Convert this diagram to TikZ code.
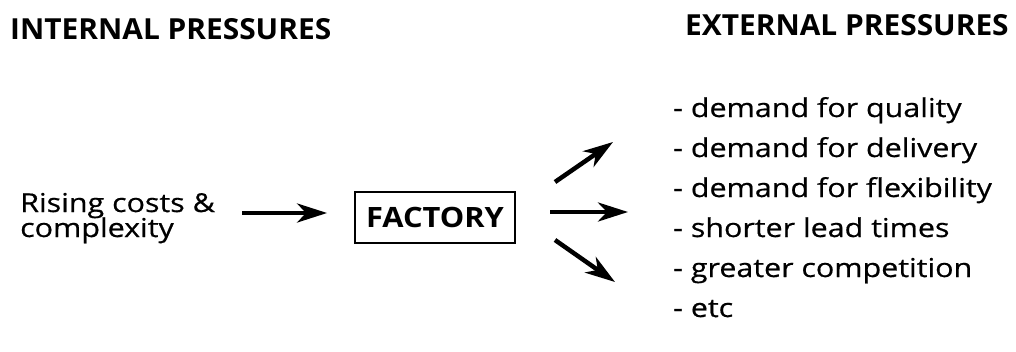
\documentclass[tikz,border=0pt]{standalone}
\usepackage{fontspec}
\setmainfont{Open Sans}
\newfontfamily\bodyfont[FakeStretch=1.17,FakeBold=0.6]{Open Sans}
\newfontfamily\headfont[FakeStretch=1.03]{Open Sans Bold}
\newfontfamily\boxfont[FakeStretch=1.1]{Open Sans Bold}
\usetikzlibrary{arrows.meta}
\tikzset{
  txt/.style={inner sep=0pt, anchor=base west, font=\bodyfont\fontsize{26}{30}\selectfont},
  head/.style={inner sep=0pt, anchor=base west, font=\headfont\fontsize{29}{34}\selectfont},
  fbox/.style={draw, line width=1.8pt, inner sep=0pt, minimum width=160pt, minimum height=51pt, font=\boxfont\fontsize{28}{32}\selectfont},
  arr/.style={line width=4.5pt, -{Stealth[length=30pt,width=19pt,inset=9pt]}}
}
\begin{document}
\begin{tikzpicture}[x=1pt,y=-1pt]
\useasboundingbox (0,0) rectangle (1016,351);
\node[head] (ih) at (10,39) {INTERNAL PRESSURES};
\node[head] (eh) at (685,35) {EXTERNAL PRESSURES};
\node[txt] (r1) at (20,212) {Rising costs \&};
\node[txt] (r2) at (20,237) {complexity};
\node[fbox] (fac) at (435,217.5) {FACTORY};
\coordinate (a1s) at (242,213);
\draw[arr] (a1s) -- (a1s -| fac.west) [shorten >=27pt];
\node[txt] (l1) at (673,117) {- demand for quality};
\node[txt] (l2) at (673,157) {- demand for delivery};
\node[txt] (l3) at (673,197) {- demand for flexibility};
\node[txt] (l4) at (673,237) {- shorter lead times};
\node[txt] (l5) at (673,277) {- greater competition};
\node[txt] (l6) at (673,317) {- etc};
\coordinate (b1s) at (555,182);
\coordinate (b1e) at (613,142);
\coordinate (b2s) at (550,212);
\coordinate (b2e) at (628,212);
\coordinate (b3s) at (555,240);
\coordinate (b3e) at (615,282);
\draw[arr] (b1s) -- (b1e);
\draw[arr] (b2s) -- (b2e);
\draw[arr] (b3s) -- (b3e);
\end{tikzpicture}
\end{document}
